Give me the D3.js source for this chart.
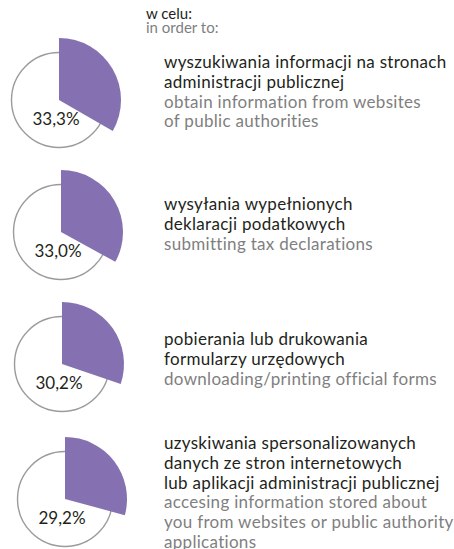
<!DOCTYPE html>
<html>
<head>
<meta charset="utf-8">
<script src="https://cdn.jsdelivr.net/npm/d3@7"></script>
<style>
  html, body { margin: 0; padding: 0; background: #fff; }
  svg { display: block; }
</style>
</head>
<body>
<svg id="chart" width="454" height="549"></svg>
<script>
// Share of internet users contacting public authorities, by purpose (%)
const values = [33.3, 33.0, 30.2, 29.2];
const valueLabels = ["33,3%", "33,0%", "30,2%", "29,2%"];
const labelsPl = [
  ["wyszukiwania informacji na stronach", "administracji publicznej"],
  ["wysyłania wypełnionych", "deklaracji podatkowych"],
  ["pobierania lub drukowania", "formularzy urzędowych"],
  ["uzyskiwania spersonalizowanych", "danych ze stron internetowych", "lub aplikacji administracji publicznej"]
];
const labelsEn = [
  ["obtain information from websites", "of public authorities"],
  ["submitting tax declarations"],
  ["downloading/printing official forms"],
  ["accesing information stored about", "you from websites or public authority", "applications"]
];
const headerPl = "w celu:";
const headerEn = "in order to:";

const svg = d3.select("#chart");
const font = "Lato, 'Open Sans', sans-serif";
const purple = "#8571b1";
const dark = "#231f20";
const grey = "#7f7f7f";

// layout
const centers = [[59, 100], [61, 232], [62, 364], [65, 499]];
const textTops = [68, 210, 345, 449];
const rOuter = 62, rCircle = 47.5;
const lineH = 19.8;

const angle = d3.scaleLinear().domain([0, 100]).range([0, 2 * Math.PI]);
const arc = d3.arc().innerRadius(0).outerRadius(rOuter);

// header
svg.append("text").attr("x", 146).attr("y", 19)
  .attr("font-family", font).attr("font-size", 15).attr("fill", dark).text(headerPl);
svg.append("text").attr("x", 146).attr("y", 33)
  .attr("font-family", font).attr("font-size", 15).attr("fill", grey).text(headerEn);

values.forEach((v, i) => {
  const [cx, cy] = centers[i];
  const g = svg.append("g").attr("transform", `translate(${cx},${cy})`);
  g.append("circle").attr("r", rCircle)
    .attr("fill", "#fff").attr("stroke", "#9b9b9b").attr("stroke-width", 1.4);
  g.append("path")
    .attr("d", arc({ startAngle: 0, endAngle: angle(v) }))
    .attr("fill", purple);
  g.append("text").attr("x", -3).attr("y", 25)
    .attr("text-anchor", "middle")
    .attr("font-family", font).attr("font-size", 17).attr("fill", dark)
    .text(valueLabels[i]);

  const lines = labelsPl[i].map(t => ({ t, c: dark }))
    .concat(labelsEn[i].map(t => ({ t, c: grey })));
  const t = svg.append("text")
    .attr("font-family", font).attr("font-size", 17)
    .attr("letter-spacing", 0.3);
  lines.forEach((l, j) => {
    t.append("tspan").attr("x", 164).attr("y", textTops[i] + j * lineH)
      .attr("fill", l.c).text(l.t);
  });
});
</script>
</body>
</html>
